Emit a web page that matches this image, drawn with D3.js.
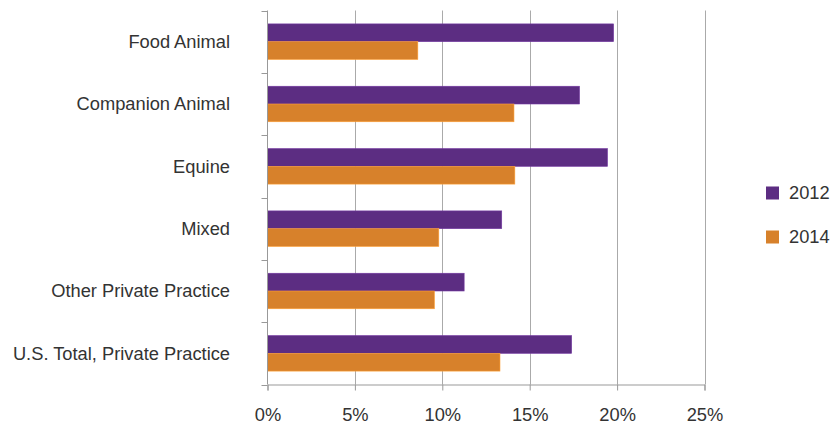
<!DOCTYPE html>
<html>
<head>
<meta charset="utf-8">
<script src="https://cdn.jsdelivr.net/npm/d3@7"></script>
<style>
  body { margin: 0; background: #fff; }
  svg { display: block; }
  text { font-family: "Liberation Sans", Arial, sans-serif; fill: #333; }
</style>
</head>
<body>
<svg width="832" height="428"></svg>
<script>
var categories = ['Food Animal', 'Companion Animal', 'Equine', 'Mixed', 'Other Private Practice', 'U.S. Total, Private Practice'];
var seriesNames = ['2012', '2014'];
var values2012 = [19.8, 17.85, 19.45, 13.4, 11.25, 17.4];
var values2014 = [8.6, 14.1, 14.15, 9.8, 9.55, 13.3];
var xTicks = [0, 5, 10, 15, 20, 25];
var colors = ['#5c2d82', '#d7812b'];

var svg = d3.select('svg');
var plotLeft = 267.5, plotRight = 704.5, plotTop = 10.5, plotBottom = 384.5;
var fontSize = 18.3;

var x = d3.scaleLinear().domain([0, 25]).range([plotLeft, plotRight]);
var y = d3.scaleBand().domain(categories).range([plotTop, plotBottom]).paddingInner(0.43).paddingOuter(0.215);
var inner = d3.scaleBand().domain(seriesNames).range([0, y.bandwidth()]);

// gridlines
svg.append('g')
  .selectAll('line')
  .data(xTicks.slice(1))
  .enter().append('line')
  .attr('x1', function(d) { return Math.round(x(d)) + 0.5; })
  .attr('x2', function(d) { return Math.round(x(d)) + 0.5; })
  .attr('y1', plotTop)
  .attr('y2', plotBottom)
  .attr('stroke', '#aaa')
  .attr('stroke-width', 1);

// bars
var series = [values2012, values2014];
series.forEach(function(vals, si) {
  svg.append('g')
    .selectAll('rect')
    .data(vals)
    .enter().append('rect')
    .attr('x', x(0))
    .attr('y', function(d, i) { return y(categories[i]) + inner(seriesNames[si]); })
    .attr('width', function(d) { return x(d) - x(0); })
    .attr('height', inner.bandwidth())
    .attr('fill', colors[si])
    .attr('stroke', d3.color(colors[si]).brighter(0.6))
    .attr('stroke-width', 0.6);
});

// y axis line and ticks at band boundaries
var step = (plotBottom - plotTop) / categories.length;
svg.append('line')
  .attr('x1', plotLeft).attr('x2', plotLeft)
  .attr('y1', plotTop).attr('y2', plotBottom)
  .attr('stroke', '#999');
svg.append('g')
  .selectAll('line')
  .data(d3.range(categories.length + 1))
  .enter().append('line')
  .attr('x1', plotLeft - 6).attr('x2', plotLeft)
  .attr('y1', function(i) { return Math.round(plotTop + i * step) + 0.5; })
  .attr('y2', function(i) { return Math.round(plotTop + i * step) + 0.5; })
  .attr('stroke', '#999');

// x axis
var xAxis = svg.append('g')
  .attr('transform', 'translate(0,' + plotBottom + ')')
  .call(d3.axisBottom(x).tickValues(xTicks).tickSize(6).tickPadding(18).tickFormat(function(d) { return d + '%'; }));
xAxis.select('.domain').attr('stroke', '#999');
xAxis.selectAll('.tick line').attr('stroke', '#999');
xAxis.selectAll('.tick text').attr('font-size', fontSize).attr('fill', '#333').style('font-family', '"Liberation Sans", Arial, sans-serif');

// category labels
svg.append('g')
  .selectAll('text')
  .data(categories)
  .enter().append('text')
  .attr('x', 230)
  .attr('y', function(d) { return y(d) + y.bandwidth() / 2; })
  .attr('dy', '0.35em')
  .attr('text-anchor', 'end')
  .attr('font-size', fontSize)
  .text(function(d) { return d; });

// legend
var legend = svg.append('g')
  .selectAll('g')
  .data(seriesNames)
  .enter().append('g')
  .attr('transform', function(d, i) { return 'translate(766,' + (186.5 + i * 44) + ')'; });
legend.append('rect')
  .attr('width', 13).attr('height', 13)
  .attr('fill', function(d, i) { return colors[i]; });
legend.append('text')
  .attr('x', 23).attr('y', 6.5)
  .attr('dy', '0.35em')
  .attr('font-size', fontSize)
  .text(function(d) { return d; });
</script>
</body>
</html>
